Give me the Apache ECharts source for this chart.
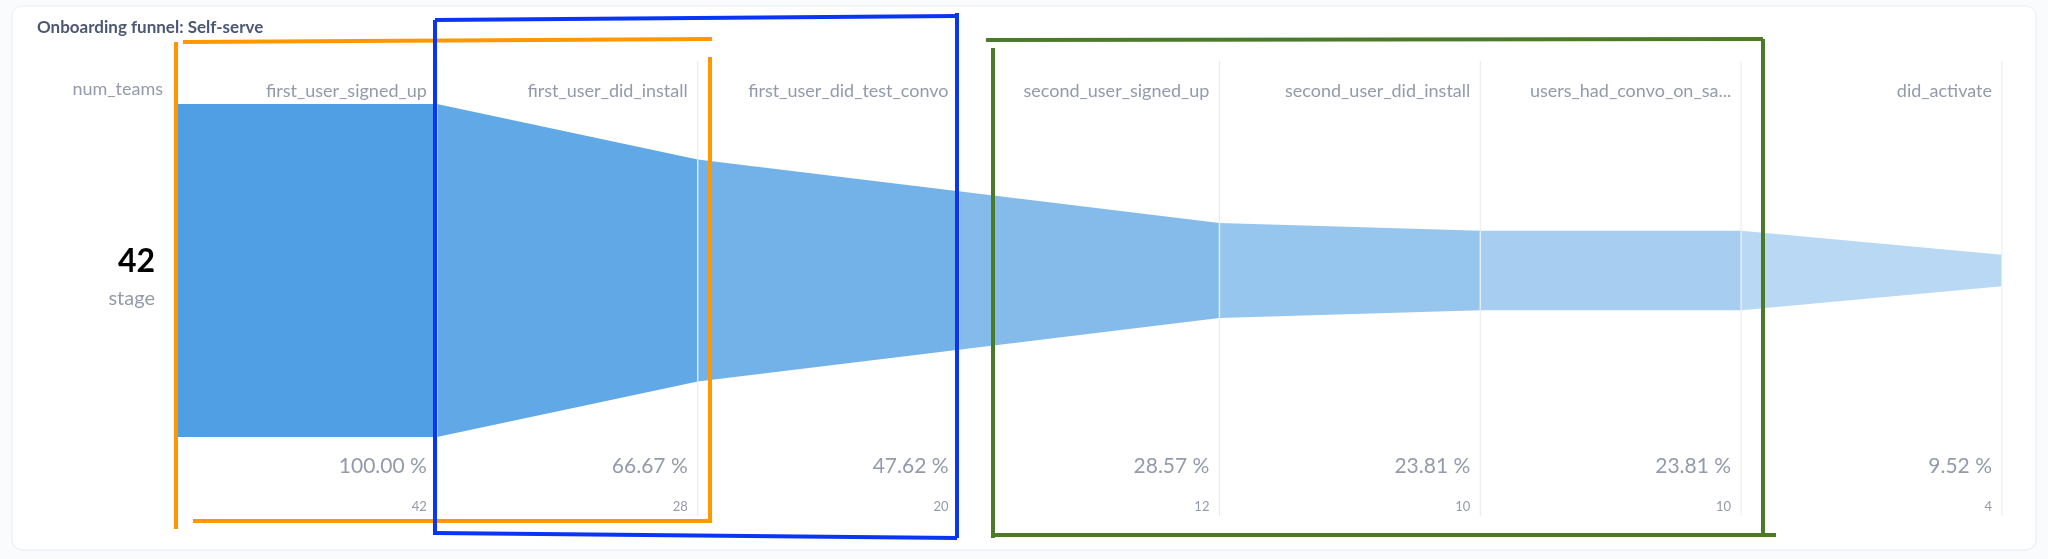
<!DOCTYPE html>
<html><head><meta charset="utf-8">
<script src="https://cdn.jsdelivr.net/npm/echarts@6/dist/echarts.min.js"></script>
<style>html,body{margin:0;padding:0;background:#f9fbfc;}#c{width:2048px;height:559px;}</style>
</head><body><div id="c"></div>
<script>
const stages = ['first_user_signed_up','first_user_did_install','first_user_did_test_convo','second_user_signed_up','second_user_did_install','users_had_convo_on_sa...','did_activate'];
const counts = [42,28,20,12,10,10,4];
const metricName = 'num_teams';
const total = 42;
const F = 'Lato, "Noto Sans", sans-serif';
const chart = echarts.init(document.getElementById('c'));
const data = stages.map((s,i)=>[i, i===0?counts[0]:counts[i-1], counts[i]]);
function ann(points,color){return {type:'polyline',shape:{points},style:{stroke:color,lineWidth:4,fill:null},z:100};}
chart.setOption({
  animation:false,
  grid:{left:176,right:46,top:104,bottom:122},
  xAxis:{type:'value',min:0,max:7,show:false},
  yAxis:{type:'value',min:-21,max:21,show:false},
  graphic:[
    {type:'rect',shape:{x:12,y:6,width:2024,height:544,r:10},style:{fill:'#fff',stroke:'#e8ecf0',lineWidth:1},z:-10,silent:true},
    {type:'text',left:37,top:19,style:{text:'Onboarding funnel: Self-serve',font:'bold 17px '+F,fill:'#4c5773'}},
    {type:'text',right:2048-163,top:80,style:{text:metricName,font:'18px '+F,fill:'#949aab',align:'right'}},
    {type:'text',x:155,y:262,style:{text:'42',font:'bold 32px '+F,fill:'#000',align:'right',verticalAlign:'middle'}},
    {type:'text',x:155,y:299,style:{text:'stage',font:'20px '+F,fill:'#949aab',align:'right',verticalAlign:'middle'}},
    ann([[176,42],[176,529]],'#ff9800'),
    ann([[183,42],[712,39]],'#ff9800'),
    ann([[710,57],[710,522]],'#ff9800'),
    ann([[193,521],[712,521]],'#ff9800'),
    ann([[435,20],[957,16]],'#0a35f5'),
    ann([[435,20],[435,535]],'#0a35f5'),
    ann([[957,13],[957,538]],'#0a35f5'),
    ann([[435,533],[957,538]],'#0a35f5'),
    ann([[986,40],[1763,39]],'#4b7a2b'),
    ann([[993,48],[993,538]],'#4b7a2b'),
    ann([[1763,39],[1763,533]],'#4b7a2b'),
    ann([[993,535],[1776,535]],'#4b7a2b')
  ],
  series:[{
    type:'custom',
    data:data,
    renderItem:function(params,api){
      const i=api.value(0), a=api.value(1), b=api.value(2);
      const p1=api.coord([i,a/2]), p2=api.coord([i+1,b/2]), p3=api.coord([i+1,-b/2]), p4=api.coord([i,-a/2]);
      const op = 1 - i*0.1;
      const xr = p2[0];
      const pct = (b/total*100).toFixed(2)+' %';
      return {type:'group',children:[
        {type:'polygon',shape:{points:[p1,p2,p3,p4]},style:{fill:'#509ee3',opacity:op}},
        {type:'line',shape:{x1:xr,y1:61,x2:xr,y2:516},style:{stroke:'#e6e9ee',lineWidth:1},z2:-1},
        {type:'line',shape:{x1:xr,y1:p2[1],x2:xr,y2:p3[1]},style:{stroke:'rgba(255,255,255,0.7)',lineWidth:1.5},z2:5},
        {type:'text',style:{x:xr-10,y:91,text:stages[i],font:'18px '+F,fill:'#949aab',align:'right',verticalAlign:'middle'}},
        {type:'text',style:{x:xr-10,y:466,text:pct,font:'21px '+F,fill:'#949aab',align:'right',verticalAlign:'middle'}},
        {type:'text',style:{x:xr-10,y:507,text:String(b),font:'13px '+F,fill:'#949aab',align:'right',verticalAlign:'middle'}}
      ]};
    }
  }]
});
</script></body></html>
